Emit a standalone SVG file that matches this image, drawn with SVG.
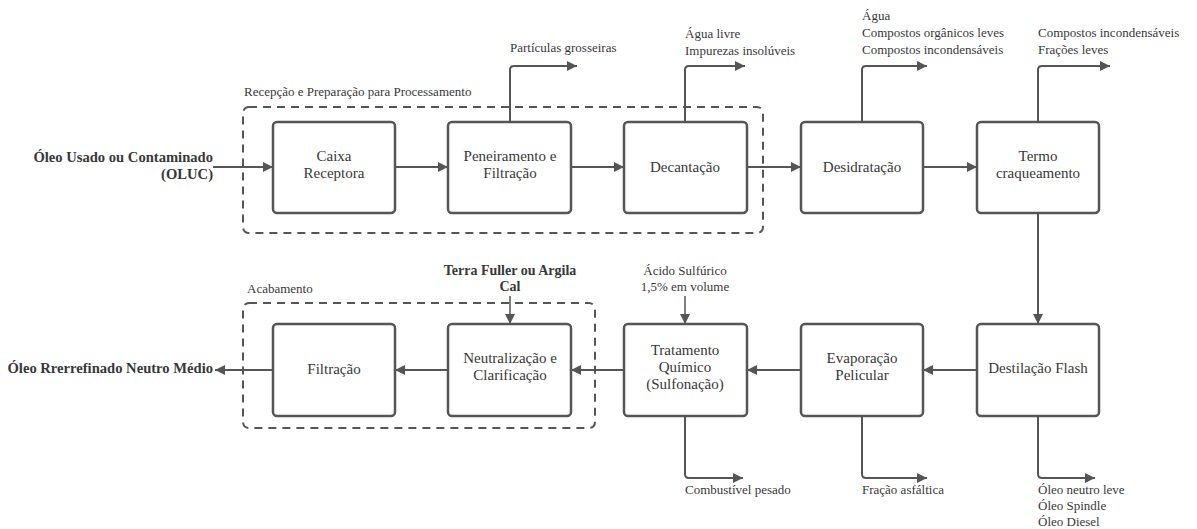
<svg xmlns="http://www.w3.org/2000/svg" width="1197" height="529" viewBox="0 0 1197 529" font-family="'Liberation Serif', Tinos, 'Times New Roman', 'DejaVu Serif', serif">
  <defs>
    <marker id="arrow" viewBox="0 0 10 10" refX="10" refY="5" markerWidth="10" markerHeight="10" markerUnits="userSpaceOnUse" orient="auto">
      <path d="M0,0 L10,5 L0,10 Z" fill="#555"/>
    </marker>
    <style>
      text { fill: #383838; }
      .box { fill: #fff; stroke: #555; stroke-width: 2.5; }
      .group { fill: none; stroke: #555; stroke-width: 2; stroke-dasharray: 8 6; }
      .lbl { font-size: 15px; text-anchor: middle; }
      .side { font-size: 13px; }
      .bold { font-weight: bold; font-size: 14px; }
      .io { font-weight: bold; font-size: 14.6px; text-anchor: end; }
      .conn { fill: none; stroke: #555; stroke-width: 2; marker-end: url(#arrow); }
      .thin { fill: none; stroke: #555; stroke-width: 1.5; marker-end: url(#arrow); }
    </style>
  </defs>

  <!-- stage groupings -->
  <g id="grp-recepcao">
    <rect class="group" x="243" y="107" width="520" height="126" rx="6"/>
    <text class="side" x="244" y="96">Recepção e Preparação para Processamento</text>
  </g>
  <g id="grp-acabamento">
    <rect class="group" x="243" y="303" width="352" height="125" rx="6"/>
    <text class="side" x="247" y="293">Acabamento</text>
  </g>

  <!-- process steps -->
  <g id="caixa">
    <rect class="box" x="273" y="122" width="122" height="91" rx="4"/>
    <text class="lbl" x="334" y="161">Caixa</text>
    <text class="lbl" x="334" y="178">Receptora</text>
  </g>
  <g id="peneiramento">
    <rect class="box" x="448" y="122" width="123" height="91" rx="4"/>
    <text class="lbl" x="510" y="161">Peneiramento e</text>
    <text class="lbl" x="510" y="178">Filtração</text>
  </g>
  <g id="decantacao">
    <rect class="box" x="624" y="122" width="123" height="91" rx="4"/>
    <text class="lbl" x="685" y="172">Decantação</text>
  </g>
  <g id="desidratacao">
    <rect class="box" x="801" y="122" width="122" height="91" rx="4"/>
    <text class="lbl" x="862" y="172">Desidratação</text>
  </g>
  <g id="termo">
    <rect class="box" x="977" y="122" width="122" height="91" rx="4"/>
    <text class="lbl" x="1038" y="161">Termo</text>
    <text class="lbl" x="1038" y="178">craqueamento</text>
  </g>
  <g id="filtracao">
    <rect class="box" x="273" y="324" width="122" height="92" rx="4"/>
    <text class="lbl" x="334" y="374">Filtração</text>
  </g>
  <g id="neutralizacao">
    <rect class="box" x="448" y="324" width="123" height="92" rx="4"/>
    <text class="lbl" x="510" y="363">Neutralização e</text>
    <text class="lbl" x="510" y="380">Clarificação</text>
  </g>
  <g id="tratamento">
    <rect class="box" x="624" y="324" width="123" height="92" rx="4"/>
    <text class="lbl" x="685" y="355">Tratamento</text>
    <text class="lbl" x="685" y="372">Químico</text>
    <text class="lbl" x="685" y="389">(Sulfonação)</text>
  </g>
  <g id="evaporacao">
    <rect class="box" x="801" y="324" width="122" height="92" rx="4"/>
    <text class="lbl" x="862" y="363">Evaporação</text>
    <text class="lbl" x="862" y="380">Pelicular</text>
  </g>
  <g id="destilacao">
    <rect class="box" x="977" y="324" width="122" height="92" rx="4"/>
    <text class="lbl" x="1038" y="373">Destilação Flash</text>
  </g>

  <!-- flow connectors -->
  <g id="connectors">
    <path class="conn" d="M213,167 H273"/>
    <path class="conn" d="M395,167 H448"/>
    <path class="conn" d="M571,167 H624"/>
    <path class="conn" d="M747,167 H801"/>
    <path class="conn" d="M923,167 H977"/>
    <path class="conn" d="M1038,213 V324"/>
    <path class="conn" d="M977,370 H923"/>
    <path class="conn" d="M801,370 H747"/>
    <path class="conn" d="M624,370 H571"/>
    <path class="conn" d="M448,370 H395"/>
    <path class="conn" d="M273,370 H215"/>

    <!-- by-product outlets -->
    <path class="conn" d="M510,122 V70 Q510,66 514,66 H577"/>
    <path class="conn" d="M685,122 V70 Q685,66 689,66 H745"/>
    <path class="conn" d="M862,122 V70 Q862,66 866,66 H927"/>
    <path class="conn" d="M1038,122 V70 Q1038,66 1042,66 H1110"/>
    <path class="conn" d="M685,416 V474 Q685,478 689,478 H743"/>
    <path class="conn" d="M862,416 V474 Q862,478 866,478 H927"/>
    <path class="conn" d="M1038,416 V474 Q1038,478 1042,478 H1095"/>

    <!-- reagent inputs -->
    <path class="thin" d="M685,296 V324"/>
    <path class="thin" d="M510,296 V324"/>
  </g>

  <!-- stream labels -->
  <g id="labels">
    <text class="io" x="213" y="162">Óleo Usado ou Contaminado</text>
    <text class="io" x="213" y="179">(OLUC)</text>
    <text class="io" x="213" y="373">Óleo Rrerrefinado Neutro Médio</text>

    <text class="side" x="510" y="52">Partículas grosseiras</text>
    <text class="side" x="685" y="38">Água livre</text>
    <text class="side" x="685" y="55">Impurezas insolúveis</text>
    <text class="side" x="862" y="20">Água</text>
    <text class="side" x="862" y="37">Compostos orgânicos leves</text>
    <text class="side" x="862" y="54">Compostos incondensáveis</text>
    <text class="side" x="1038" y="37">Compostos incondensáveis</text>
    <text class="side" x="1038" y="54">Frações leves</text>

    <text class="side" x="685" y="275" text-anchor="middle">Ácido Sulfúrico</text>
    <text class="side" x="685" y="291" text-anchor="middle">1,5% em volume</text>
    <text class="bold" x="510" y="275" text-anchor="middle">Terra Fuller ou Argila</text>
    <text class="bold" x="510" y="291" text-anchor="middle">Cal</text>

    <text class="side" x="685" y="494">Combustível pesado</text>
    <text class="side" x="862" y="494">Fração asfáltica</text>
    <text class="side" x="1038" y="494">Óleo neutro leve</text>
    <text class="side" x="1038" y="510">Óleo Spindle</text>
    <text class="side" x="1038" y="526">Óleo Diesel</text>
  </g>
</svg>
